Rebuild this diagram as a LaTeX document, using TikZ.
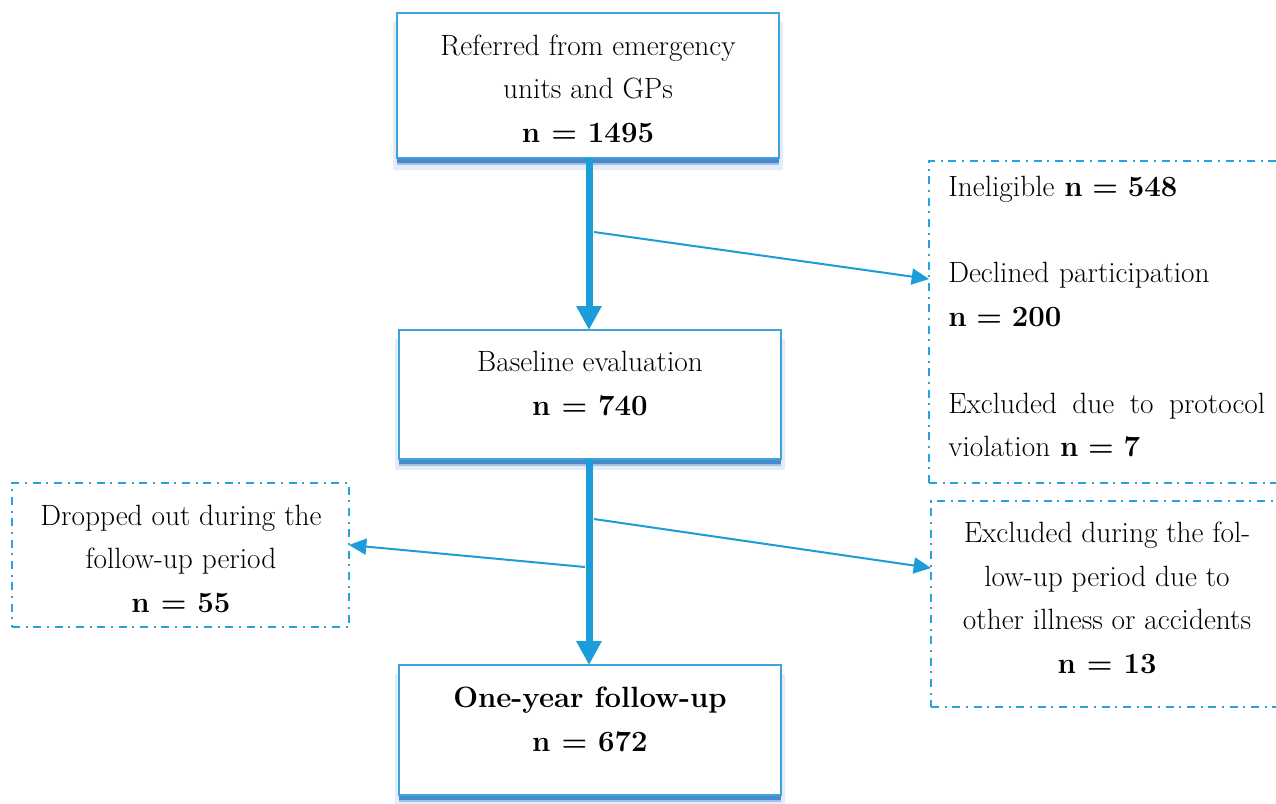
\documentclass[tikz,border=0pt]{standalone}
\usepackage{fontspec}
\usetikzlibrary{arrows.meta,shadows}
\definecolor{boxblue}{RGB}{62,163,220}
\definecolor{arrblue}{RGB}{27,157,217}
\definecolor{dashblue}{RGB}{38,163,222}
\definecolor{shadowblue}{RGB}{35,115,190}
\begin{document}
\begin{tikzpicture}[x=0.75pt,y=-0.75pt,
  mainbox/.style={draw=boxblue,line width=1pt,fill=white,inner sep=0pt,outer sep=0pt,
    general shadow={fill=shadowblue,opacity=0.12,shadow yshift=-7.5pt,shadow scale=1.02},
    general shadow={fill=shadowblue,opacity=0.35,shadow yshift=-5.5pt},
    general shadow={fill=shadowblue,opacity=0.7,shadow yshift=-3.5pt}},
  dashbox/.style={draw=dashblue,line width=1.4pt,inner sep=0pt,outer sep=0pt,
    dash pattern=on 6pt off 4.2pt on 1.6pt off 4.2pt},
  txt/.style={font=\fontsize{22}{32.6}\selectfont,align=center,anchor=base,inner sep=0pt},
  thickarrow/.style={draw=arrblue,line width=5.25pt,-{Triangle[length=18pt,width=18pt]}},
  thinarrow/.style={draw=arrblue,line width=1.5pt,-{Triangle[length=13pt,width=12pt]}}]
\clip (0,0) rectangle (1276,803);
\fill[white] (0,0) rectangle (1276,803);
% main boxes
\node[mainbox,minimum width=286.5pt,minimum height=108.75pt] (b1) at (588,85.5) {};
\node[mainbox,minimum width=286.5pt,minimum height=96.75pt] (b2) at (590,394.5) {};
\node[mainbox,minimum width=286.5pt,minimum height=97.5pt] (b3) at (590,730) {};
% dashed boxes
\node[dashbox,minimum width=265.5pt,minimum height=241.5pt] (r1) at (1106,322) {};
\node[dashbox,minimum width=264pt,minimum height=154.5pt] (r2) at (1107,604) {};
\node[dashbox,minimum width=252.75pt,minimum height=108pt] (l1) at (180.5,555) {};
% texts (anchor base = last line)
\node[txt] (t1) at (588,142) {Referred from emergency\\units and GPs\\\textbf{n = 1495}};
\node[txt] (t2) at (590,415) {Baseline evaluation\\\textbf{n = 740}};
\node[txt] (t3) at (590,751) {\textbf{One-year follow-up}\\\textbf{n = 672}};
\node[txt] (tl) at (181,612) {Dropped out during the\\follow-up period\\\textbf{n = 55}};
\node[txt] (tr2) at (1107,673) {Excluded during the fol-\\low-up period due to\\other illness or accidents\\\textbf{n = 13}};
\node[txt,anchor=base west,align=left,text width=237.75pt] (tr1) at (948,196)
  {Ineligible \textbf{n = 548}\\
   \mbox{}\\
   Declined participation\\
   \textbf{n = 200}\\
   \mbox{}\\
   \makebox[237.75pt][s]{Excluded\hfill due\hfill to\hfill protocol}\\
   violation \textbf{n = 7}};
% connectors
\draw[thickarrow] (b1.south -| 589,0) -- (b2.north -| 589,0);
\draw[thickarrow] (b2.south -| 589,0) -- (b3.north -| 589,0);
\coordinate (s1) at (594,232);
\coordinate (e1) at (927,279);
\coordinate (s2) at (594,519);
\coordinate (e2) at (929,568);
\coordinate (s3) at (585,567);
\coordinate (e3) at (350,545);
\draw[thinarrow] (s1) -- (e1 -| r1.west);
\draw[thinarrow] (s2) -- (e2 -| r2.west);
\draw[thinarrow] (s3) -- (e3 -| l1.east);
\end{tikzpicture}
\end{document}
